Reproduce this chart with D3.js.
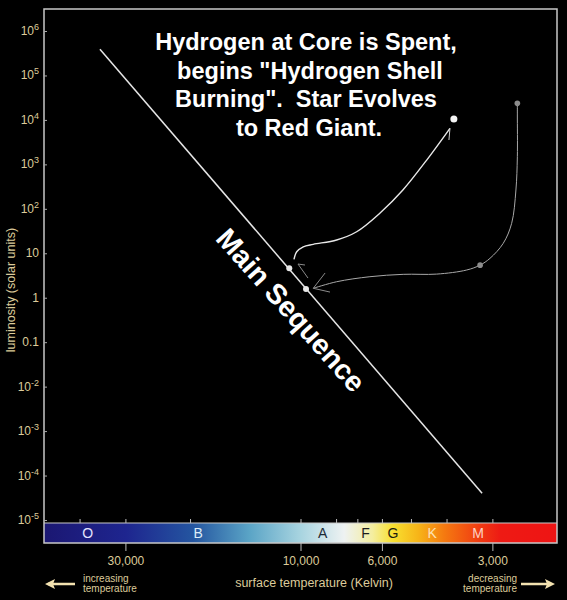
<!DOCTYPE html>
<html>
<head>
  <meta charset="utf-8">
  <title>H-R diagram: hydrogen shell burning</title>
  <style>
    html, body { margin: 0; padding: 0; background: #000; }
    svg { display: block; }
    text { font-family: "Liberation Sans", Arial, Helvetica, sans-serif; }
  </style>
  <script src="https://cdnjs.cloudflare.com/ajax/libs/d3/7.8.5/d3.min.js"></script>
</head>
<body>
<div id="chart"></div>
<script>

  // --- data (temperature in K, luminosity in solar units) ---
  var lumTicks   = [1e6, 1e5, 1e4, 1e3, 1e2, 10, 1, 0.1, 1e-2, 1e-3, 1e-4, 1e-5];
  var lumLabels  = [["10","6"],["10","5"],["10","4"],["10","3"],["10","2"],["10",""],["1",""],["0.1",""],
                    ["10","-2"],["10","-3"],["10","-4"],["10","-5"]];
  var tempTicks  = [30000, 10000, 6000, 3000];
  var tempLabels = ["30,000", "10,000", "6,000", "3,000"];
  var tempMinor  = [40000, 30000, 20000, 10000, 8000, 7000, 6000, 5000, 4000, 3000];

  var classNames = ["O", "B", "A", "F", "G", "K", "M"];
  var classTemps = [38000, 19000, 8700, 6650, 5600, 4380, 3280];
  var classInk   = ["#e4e4ff", "#dcecf8", "#1c2a36", "#1c1c1c", "#1c1c10", "#fde2b8", "#fdd2c4"];

  var mainSequence = [[35200, 3.9e5], [3200, 4.0e-5]];
  var mainSeqStars = [[10730, 4.6], [9660, 1.57]];
  var giantStar    = [3820, 1.05e4];
  var greyStars    = [[2565, 2.36e4], [3240, 5.4]];

  // star leaving the main sequence towards the red giant branch
  var shellTrack = [[10420, 7.3], [10240, 10.8], [9830, 14], [9230, 15.9], [7970, 19.9], [7030, 30.5],
                    [6070, 80.5], [5260, 265], [4530, 1250], [3915, 6470]];
  var shellBarb  = [[3915, 6470], [3940, 3530]];

  // the other (grey) track falling back down
  var backTrack = [[2565, 23600], [2565, 12900], [2565, 1486], [2588, 265], [2658, 47.2], [2803, 16.7],
                   [3045, 7.7], [3243, 5.4], [3526, 4.2], [4255, 3.4], [5250, 3.36], [6470, 2.97],
                   [7970, 2.29], [9230, 1.63]];
  var backHead  = [[8570, 3.6], [9230, 1.63], [8310, 1.34]];
  var stubHead  = [[9720, 5.44], [10160, 5.73], [9540, 2.77]];

  var titleLines = ["Hydrogen at Core is Spent,", "begins \"Hydrogen Shell", "Burning\".  Star Evolves", "to Red Giant."];

  // --- layout ---
  var W = 567, H = 600;
  var plotLeft = 44, plotRight = 557, plotTop = 9, plotBottom = 543;
  var barTop = 523;
  var tan = "#dccb9a";

  var svg = d3.select("#chart").append("svg").attr("width", W).attr("height", H);
  svg.append("rect").attr("width", W).attr("height", H).attr("fill", "#000");

  var x = d3.scaleLog().domain([50000, 2000]).range([plotLeft, plotRight]);
  var y = d3.scaleLog().domain([1e-5, 1e6]).range([520, 31]);

  // spectral colour bar
  var grad = svg.append("defs").append("linearGradient").attr("id", "spec")
    .attr("x1", "0%").attr("x2", "100%");
  [[0, "#1b1772"], [0.16, "#1e258f"], [0.29, "#2455a0"], [0.40, "#5aa4c6"], [0.5, "#a8d4e0"],
   [0.585, "#eef2f2"], [0.64, "#f4eea0"], [0.68, "#f8e030"], [0.73, "#f7b418"], [0.78, "#f57a10"],
   [0.85, "#f03a12"], [0.89, "#ee1a14"], [1, "#ee1414"]].forEach(function (s) {
    grad.append("stop").attr("offset", s[0]).attr("stop-color", s[1]);
  });
  svg.append("rect").attr("x", plotLeft).attr("y", barTop).attr("width", plotRight - plotLeft)
    .attr("height", plotBottom - barTop).attr("fill", "url(#spec)");

  svg.append("g").selectAll("text").data(classNames).enter().append("text")
    .attr("x", function (d, i) { return x(classTemps[i]); })
    .attr("y", 538).attr("text-anchor", "middle")
    .attr("font-size", 14).attr("fill", function (d, i) { return classInk[i]; })
    .text(function (d) { return d; });

  // frame
  svg.append("rect").attr("x", plotLeft).attr("y", plotTop).attr("width", plotRight - plotLeft)
    .attr("height", plotBottom - plotTop).attr("fill", "none").attr("stroke", "#c8c8c8").attr("stroke-width", 1.5);
  svg.append("line").attr("x1", plotLeft).attr("x2", plotRight).attr("y1", barTop).attr("y2", barTop)
    .attr("stroke", "#c8c8c8").attr("stroke-width", 1);

  // temperature axis: small ticks above the bar, labelled ticks below
  var minorAxis = d3.axisTop(x).tickValues(tempMinor).tickSize(4).tickFormat("");
  var gMinor = svg.append("g").attr("transform", "translate(0," + barTop + ")").call(minorAxis);
  gMinor.select(".domain").remove();
  gMinor.selectAll("line").attr("stroke", "#bbb");

  var tempAxis = d3.axisBottom(x).tickValues(tempTicks).tickSize(8).tickPadding(5)
    .tickFormat(function (d, i) { return tempLabels[i]; });
  var gTemp = svg.append("g").attr("transform", "translate(0," + plotBottom + ")").call(tempAxis);
  gTemp.select(".domain").remove();
  gTemp.selectAll("line").attr("stroke", "#bbb");
  gTemp.selectAll("text").attr("fill", tan).attr("font-size", 12).attr("font-family", "Liberation Sans, Arial, sans-serif");

  // luminosity axis
  var lumAxis = d3.axisLeft(y).tickValues(lumTicks).tickSize(-3).tickFormat("");
  var gLum = svg.append("g").attr("transform", "translate(" + plotLeft + ",0)").call(lumAxis);
  gLum.select(".domain").remove();
  gLum.selectAll("line").attr("stroke", "#aaa");

  var lumText = svg.append("g").selectAll("text").data(lumTicks).enter().append("text")
    .attr("x", 39).attr("y", function (d) { return y(d) + 4; })
    .attr("text-anchor", "end").attr("font-size", 12).attr("fill", tan);
  lumText.append("tspan").text(function (d, i) { return lumLabels[i][0]; });
  lumText.append("tspan").attr("dy", -5).attr("font-size", 9)
    .text(function (d, i) { return lumLabels[i][1]; });

  svg.append("text").attr("transform", "translate(15,290) rotate(-90)")
    .attr("text-anchor", "middle").attr("font-size", 12.5).attr("fill", tan)
    .text("luminosity (solar units)");

  svg.append("text").attr("x", 314).attr("y", 587).attr("text-anchor", "middle")
    .attr("font-size", 12.5).attr("fill", tan).text("surface temperature (Kelvin)");

  // direction hints under the axis
  svg.append("text").attr("x", 83).attr("y", 582).attr("font-size", 10).attr("fill", tan).text("increasing");
  svg.append("text").attr("x", 83).attr("y", 592).attr("font-size", 10).attr("fill", tan).text("temperature");
  svg.append("text").attr("x", 517).attr("y", 582).attr("text-anchor", "end").attr("font-size", 10).attr("fill", tan).text("decreasing");
  svg.append("text").attr("x", 517).attr("y", 592).attr("text-anchor", "end").attr("font-size", 10).attr("fill", tan).text("temperature");

  var arrowCol = "#f3e2b0";
  svg.append("path").attr("d", "M48,584 L75,584").attr("stroke", arrowCol).attr("stroke-width", 2.5);
  svg.append("path").attr("d", "M45,584 L55,579 L53,584 L55,589 Z").attr("fill", arrowCol);
  svg.append("path").attr("d", "M521,584 L551,584").attr("stroke", arrowCol).attr("stroke-width", 2.5);
  svg.append("path").attr("d", "M555,584 L545,579 L547,584 L545,589 Z").attr("fill", arrowCol);

  // main sequence
  var line = d3.line().x(function (d) { return x(d[0]); }).y(function (d) { return y(d[1]); });
  svg.append("path").attr("d", line(mainSequence)).attr("stroke", "#e6e6e6").attr("stroke-width", 1.5).attr("fill", "none");

  var ms = mainSequence.map(function (d) { return [x(d[0]), y(d[1])]; });
  var angle = Math.atan2(ms[1][1] - ms[0][1], ms[1][0] - ms[0][0]) * 180 / Math.PI;
  svg.append("text").attr("transform", "translate(291,310) rotate(" + (angle - 1) + ")")
    .attr("text-anchor", "middle").attr("dy", "0.35em")
    .attr("font-size", 28.5).attr("font-weight", "bold").attr("fill", "#fff")
    .text("Main Sequence");

  // evolutionary tracks
  var curve = d3.line().curve(d3.curveCatmullRom)
    .x(function (d) { return x(d[0]); }).y(function (d) { return y(d[1]); });
  svg.append("path").attr("d", curve(backTrack)).attr("stroke", "#a8a8a8").attr("stroke-width", 1).attr("fill", "none");
  svg.append("path").attr("d", line(backHead)).attr("stroke", "#8a8a8a").attr("stroke-width", 1).attr("fill", "none");
  svg.append("path").attr("d", line(stubHead)).attr("stroke", "#8a8a8a").attr("stroke-width", 1).attr("fill", "none");
  svg.append("path").attr("d", curve(shellTrack)).attr("stroke", "#e8e8e8").attr("stroke-width", 1.4).attr("fill", "none");
  svg.append("path").attr("d", line(shellBarb)).attr("stroke", "#cfcfcf").attr("stroke-width", 1).attr("fill", "none");

  // stars
  svg.append("g").selectAll("circle").data(greyStars).enter().append("circle")
    .attr("cx", function (d) { return x(d[0]); }).attr("cy", function (d) { return y(d[1]); })
    .attr("r", 2.8).attr("fill", "#8c8c8c");
  svg.append("g").selectAll("circle").data(mainSeqStars).enter().append("circle")
    .attr("cx", function (d) { return x(d[0]); }).attr("cy", function (d) { return y(d[1]); })
    .attr("r", 3).attr("fill", "#e8e8e8");
  svg.append("circle").attr("cx", x(giantStar[0])).attr("cy", y(giantStar[1]))
    .attr("r", 3.5).attr("fill", "#f4f4f4");

  // caption
  svg.append("g").selectAll("text").data(titleLines).enter().append("text")
    .attr("x", function (d, i) { return [306, 310, 306, 309][i]; })
    .attr("y", function (d, i) { return 50 + i * 28.7; })
    .attr("text-anchor", "middle").attr("font-size", 23.5).attr("font-weight", "bold")
    .attr("fill", "#fff").attr("xml:space", "preserve").style("white-space", "pre")
    .text(function (d) { return d; });

</script>
</body>
</html>
